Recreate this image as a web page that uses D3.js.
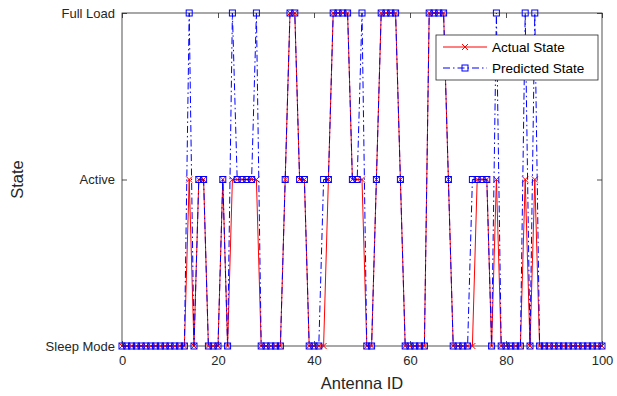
<!DOCTYPE html>
<html>
<head>
<meta charset="utf-8">
<script src="https://cdn.jsdelivr.net/npm/d3@7"></script>
<style>
  body { margin: 0; background: #fff; }
  svg { display: block; font-family: "Liberation Sans", Arial, sans-serif; }
</style>
</head>
<body>
<svg id="chart" width="617" height="396"></svg>
<script>
const antennaIds = d3.range(0, 101);
const stateLabels = ["Sleep Mode", "Active", "Full Load"];
const xTicks = [0, 20, 40, 60, 80, 100];

// states: 0 = Sleep Mode, 1 = Active, 2 = Full Load
const actualState = [
  0,0,0,0,0,0,0,0,0,0,   // 0-9
  0,0,0,0,1,0,1,1,0,0,   // 10-19
  0,1,0,1,1,1,1,1,1,0,   // 20-29
  0,0,0,0,1,2,2,1,1,0,   // 30-39
  0,0,0,1,2,2,2,2,1,1,   // 40-49
  1,0,0,1,2,2,2,2,1,0,   // 50-59
  0,0,0,0,2,2,2,2,1,0,   // 60-69
  0,0,0,0,1,1,1,0,1,0,   // 70-79
  0,0,0,0,1,0,1,0,0,0,   // 80-89
  0,0,0,0,0,0,0,0,0,0,   // 90-99
  0                      // 100
];
const predictedState = [
  0,0,0,0,0,0,0,0,0,0,   // 0-9
  0,0,0,0,2,0,1,1,0,0,   // 10-19
  0,1,0,2,1,1,1,1,2,0,   // 20-29
  0,0,0,0,1,2,2,1,1,0,   // 30-39
  0,0,1,1,2,2,2,2,1,1,   // 40-49
  2,0,0,1,2,2,2,2,1,0,   // 50-59
  0,0,0,0,2,2,2,2,1,0,   // 60-69
  0,0,0,1,1,1,1,0,2,0,   // 70-79
  0,0,0,0,2,0,2,0,0,0,   // 80-89
  0,0,0,0,0,0,0,0,0,0,   // 90-99
  0                      // 100
];

const svg = d3.select("#chart");
const m = { left: 122, right: 602, top: 13, bottom: 346 };
const x = d3.scaleLinear().domain([0, 100]).range([m.left, m.right]);
const y = d3.scaleLinear().domain([0, 2]).range([m.bottom, m.top]);
const axisColor = "#262626";
const red = "#ff0000", blue = "#0000ff";

// box
svg.append("rect").attr("x", m.left).attr("y", m.top)
  .attr("width", m.right - m.left).attr("height", m.bottom - m.top)
  .attr("fill", "none").attr("stroke", axisColor).attr("stroke-width", 0.8);

// axes
const tickLen = 5;
const gx = svg.append("g").attr("transform", `translate(0,${m.bottom})`)
  .call(d3.axisBottom(x).tickValues(xTicks).tickSizeInner(-tickLen).tickSizeOuter(0).tickPadding(10));
const gxTop = svg.append("g").attr("transform", `translate(0,${m.top})`)
  .call(d3.axisTop(x).tickValues(xTicks).tickSizeInner(-tickLen).tickSizeOuter(0).tickFormat(""));
const gy = svg.append("g").attr("transform", `translate(${m.left},0)`)
  .call(d3.axisLeft(y).tickValues([0, 1, 2]).tickSizeInner(-tickLen).tickSizeOuter(0).tickPadding(7)
    .tickFormat(d => stateLabels[d]));
const gyR = svg.append("g").attr("transform", `translate(${m.right},0)`)
  .call(d3.axisRight(y).tickValues([0, 1, 2]).tickSizeInner(-tickLen).tickSizeOuter(0).tickFormat(""));
[gx, gxTop, gy, gyR].forEach(g => {
  g.select(".domain").remove();
  g.selectAll("line").attr("stroke", axisColor).attr("stroke-width", 0.8);
  g.selectAll("text").attr("fill", axisColor).style("font-size", "13px")
    .style("font-family", "'Liberation Sans', Arial, sans-serif");
});

// axis labels
svg.append("text").attr("x", (m.left + m.right) / 2).attr("y", 389)
  .attr("text-anchor", "middle").attr("fill", axisColor).style("font-size", "16.5px").text("Antenna ID");
svg.append("text").attr("transform", `translate(23,${(m.top + m.bottom) / 2}) rotate(-90)`)
  .attr("text-anchor", "middle").attr("fill", axisColor).style("font-size", "16.5px").text("State");

const actualData = antennaIds.map((id, i) => ({ id, v: actualState[i] }));
const predData = antennaIds.map((id, i) => ({ id, v: predictedState[i] }));
const line = d3.line().x(d => x(d.id)).y(d => y(d.v));

const dashDot = "7,3,1.5,3";
const ms = 3; // half marker size

function drawX(g, cx, cy, color) {
  g.append("path").attr("d", `M${cx - ms},${cy - ms}L${cx + ms},${cy + ms}M${cx - ms},${cy + ms}L${cx + ms},${cy - ms}`)
    .attr("stroke", color).attr("stroke-width", 1).attr("fill", "none");
}
function drawSq(g, cx, cy, color) {
  g.append("rect").attr("x", cx - ms).attr("y", cy - ms).attr("width", 2 * ms).attr("height", 2 * ms)
    .attr("stroke", color).attr("stroke-width", 1).attr("fill", "none");
}

// actual
svg.append("path").datum(actualData).attr("d", line)
  .attr("fill", "none").attr("stroke", red).attr("stroke-width", 1);
const gA = svg.append("g");
actualData.forEach(d => drawX(gA, x(d.id), y(d.v), red));

// predicted
svg.append("path").datum(predData).attr("d", line)
  .attr("fill", "none").attr("stroke", blue).attr("stroke-width", 1).attr("stroke-dasharray", dashDot);
const gP = svg.append("g");
predData.forEach(d => drawSq(gP, x(d.id), y(d.v), blue));

// legend
const lg = svg.append("g");
lg.append("rect").attr("x", 436).attr("y", 35).attr("width", 162).attr("height", 45)
  .attr("fill", "#fff").attr("stroke", axisColor).attr("stroke-width", 0.8);
lg.append("line").attr("x1", 443).attr("x2", 487).attr("y1", 47).attr("y2", 47)
  .attr("stroke", red).attr("stroke-width", 1);
drawX(lg, 465, 47, red);
lg.append("line").attr("x1", 443).attr("x2", 487).attr("y1", 68).attr("y2", 68)
  .attr("stroke", blue).attr("stroke-width", 1).attr("stroke-dasharray", dashDot);
drawSq(lg, 465, 68, blue);
lg.append("text").attr("x", 492).attr("y", 52).attr("fill", "#000").style("font-size", "13.5px").text("Actual State");
lg.append("text").attr("x", 492).attr("y", 73).attr("fill", "#000").style("font-size", "13.5px").text("Predicted State");
</script>
</body>
</html>
